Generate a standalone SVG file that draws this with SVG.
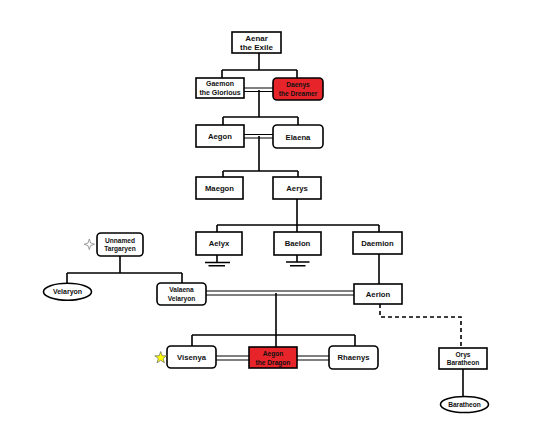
<svg xmlns="http://www.w3.org/2000/svg" width="540" height="443" viewBox="0 0 540 443">
<style>
.n{fill:#fff;stroke:#000;stroke-width:1.6}
.red{fill:#e8242b;stroke:#000;stroke-width:1.6}
.c{fill:none;stroke:#000;stroke-width:1.6}
.m{fill:none;stroke:#000;stroke-width:1.2}
.d{fill:none;stroke:#000;stroke-width:1.6;stroke-dasharray:4,3}
text{font-family:"Liberation Sans",Arial,sans-serif;font-weight:bold;fill:#111;text-anchor:middle}
.s{font-size:6.6px}
.l{font-size:7.7px}
</style>
<rect width="540" height="443" fill="#fff"/>
<g id="connectors">
<path class="c" d="M259,53V70M222,70H297M222,70V78M297,70V78"/>
<path class="m" d="M244,88H273M244,91.5H273"/>
<path class="c" d="M259,90V117M223,117H298M223,117V125M298,117V125"/>
<path class="m" d="M244,134.5H273M244,138H273"/>
<path class="c" d="M259,136V171M223,171H298M223,171V177M298,171V177"/>
<path class="c" d="M297,199V225M217,225H379M217,225V232M297,225V232M379,225V232"/>
<path class="c" d="M217,255V262.5M205,262.5H230M208.5,265.8H225"/>
<path class="c" d="M297,255V262M286,262H309.5M290,265.8H305.5"/>
<path class="c" d="M379,254V284"/>
<path class="c" d="M120,256V273M67,273H182M67,273V283M182,273V283"/>
<path class="m" d="M206,291H354M206,295H354"/>
<path class="c" d="M276,293V335M192,335H355M192,335V346M276,335V347M355,335V346"/>
<path class="m" d="M216,356H249M216,360H249M297,356H329M297,360H329"/>
<path class="d" d="M380,304V317H461V348"/>
<path class="c" d="M463,369V397"/>
</g>
<g id="aenar"><rect class="n" x="232" y="32" width="49" height="21"/><text x="256.5" y="41" style="font-size:8px">Aenar</text><text x="256.5" y="50" style="font-size:8px">the Exile</text></g>
<g id="gaemon"><rect class="n" x="196" y="78" width="48" height="20"/><text x="220" y="86" style="font-size:7px">Gaemon</text><text x="220" y="94.5" style="font-size:7px">the Glorious</text></g>
<g id="daenys"><rect class="red" x="273" y="78" width="50" height="22" rx="4"/><text class="s" x="298" y="87">Daenys</text><text class="s" x="298" y="95.5">the Dreamer</text></g>
<g id="aegon"><rect class="n" x="196" y="125" width="48" height="22"/><text class="l" x="220" y="139">Aegon</text></g>
<g id="elaena"><rect class="n" x="273" y="125" width="50" height="23" rx="4"/><text class="l" x="298" y="139.5">Elaena</text></g>
<g id="maegon"><rect class="n" x="196" y="177" width="47" height="22"/><text class="l" x="219.5" y="190.5">Maegon</text></g>
<g id="aerys"><rect class="n" x="273" y="177" width="48" height="22"/><text class="l" x="297" y="190.5">Aerys</text></g>
<g id="aelyx"><rect class="n" x="196" y="232" width="46" height="23"/><text class="l" x="219" y="246">Aelyx</text></g>
<g id="baelon"><rect class="n" x="274" y="232" width="47" height="23"/><text class="l" x="297.5" y="246">Baelon</text></g>
<g id="daemion"><rect class="n" x="353" y="232" width="49" height="22"/><text class="l" x="377.5" y="245.5">Daemion</text></g>
<g id="unnamed"><rect class="n" x="97" y="233" width="46" height="23" rx="4"/><text class="s" x="120" y="242.5">Unnamed</text><text class="s" x="120" y="251">Targaryen</text>
<path d="M89.3,239L90.6,243L94.5,244.3L90.6,245.6L89.3,249.6L88,245.6L84,244.3L88,243Z" fill="#fff" stroke="#888" stroke-width="0.8"/></g>
<g id="velaryon"><ellipse class="n" cx="67.5" cy="291.7" rx="24" ry="8.5"/><text x="67.5" y="294.2" style="font-size:7px">Velaryon</text></g>
<g id="valaena"><rect class="n" x="157" y="283" width="49" height="22" rx="4"/><text class="s" x="181.5" y="292">Valaena</text><text class="s" x="181.5" y="300.5">Velaryon</text></g>
<g id="aerion"><rect class="n" x="354" y="284" width="48" height="20"/><text class="l" x="378" y="297">Aerion</text></g>
<g id="visenya"><rect class="n" x="167" y="346" width="49" height="22" rx="4"/><text class="l" x="191.5" y="360">Visenya</text>
<path d="M160.7,351.5L162.2,355.8L166.6,355.8L163.1,358.5L164.4,362.8L160.7,360.2L157,362.8L158.3,358.5L154.8,355.8L159.2,355.8Z" fill="#ff0" stroke="#666" stroke-width="0.7"/></g>
<g id="aegon-dragon"><rect class="red" x="249" y="347" width="48" height="21"/><text class="s" x="273" y="356">Aegon</text><text class="s" x="273" y="364.5">the Dragon</text></g>
<g id="rhaenys"><rect class="n" x="329" y="346" width="49" height="23" rx="4"/><text class="l" x="353.5" y="360">Rhaenys</text></g>
<g id="orys"><rect class="n" x="439" y="348" width="48" height="21"/><text class="s" x="463" y="356.5">Orys</text><text class="s" x="463" y="365">Baratheon</text></g>
<g id="baratheon"><ellipse class="n" cx="464.5" cy="404.5" rx="24" ry="8"/><text class="s" x="464.5" y="406.8">Baratheon</text></g>
</svg>
